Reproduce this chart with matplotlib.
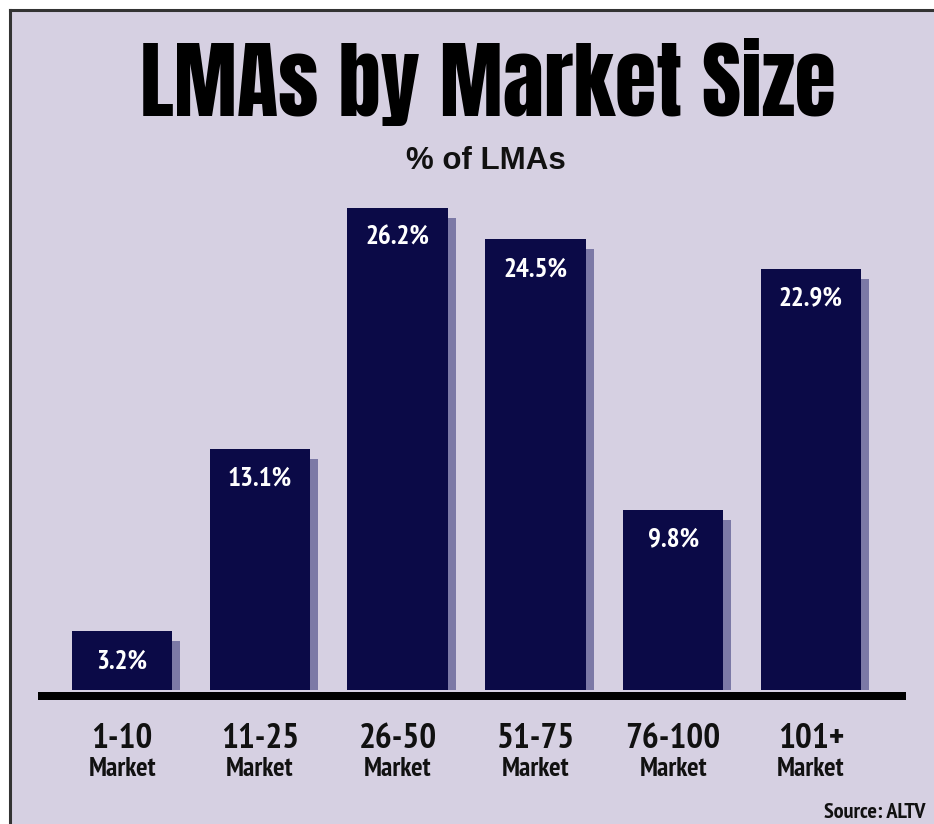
import matplotlib
matplotlib.use("Agg")
import matplotlib.pyplot as plt
from matplotlib.patches import Rectangle
from matplotlib.lines import Line2D

# ---- data ----
categories = ["1-10", "11-25", "26-50", "51-75", "76-100", "101+"]
sublabels = ["Market"] * 6
values = [3.2, 13.1, 26.2, 24.5, 9.8, 22.9]
value_labels = ["3.2%", "13.1%", "26.2%", "24.5%", "9.8%", "22.9%"]
title = "LMAs by Market Size"
subtitle = "% of LMAs"
source = "Source: ALTV"

W, H = 934, 824
DPI = 100
BG = "#d6d0e2"
BAR = "#0b0a47"
SHADOW = "#7c79a6"
TFONT = ["Anton", "Oswald", "DejaVu Sans"]
FONT = ["PT Sans Narrow", "DejaVu Sans"]
SFONT = ["Liberation Sans", "DejaVu Sans"]

def fx(px):
    return px / W

def fy(py):
    return 1 - py / H

fig = plt.figure(figsize=(W / DPI, H / DPI), dpi=DPI, facecolor="white")

fig.add_artist(Rectangle((fx(10), 0), 1 - fx(10), fy(10), transform=fig.transFigure,
                         facecolor=BG, edgecolor="none", zorder=0))
fig.add_artist(Line2D([fx(10), fx(10)], [0, fy(10)], transform=fig.transFigure,
                      color="#333333", lw=2.2, zorder=1))
fig.add_artist(Line2D([fx(10), 1], [fy(10), fy(10)], transform=fig.transFigure,
                      color="#333333", lw=2.2, zorder=1))

left, right, top, bottom = 38, 906, 190, 700
ax = fig.add_axes([fx(left), fy(bottom), fx(right - left), (bottom - top) / H])
ax.set_facecolor("none")
ppu_y = 18.4
y0_px = 690
ax.set_ylim(-(bottom - y0_px) / ppu_y, (y0_px - top) / ppu_y)
ax.set_xlim(-0.61, 5.69)
for s in ax.spines.values():
    s.set_visible(False)
ax.set_xticks([])
ax.set_yticks([])

x = list(range(len(categories)))
bw = 0.73
sh_dx = 8 / 137.8
sh_dy = 10 / ppu_y
ax.bar([i + sh_dx for i in x], [v - sh_dy for v in values], width=bw,
       color=SHADOW, zorder=1, linewidth=0)
ax.bar(x, values, width=bw, color=BAR, zorder=2, linewidth=0)

ax.axhline(-6 / ppu_y, color="black", lw=8 * 72 / DPI, zorder=3, solid_capstyle="butt")

for i, (v, lab) in enumerate(zip(values, value_labels)):
    ax.annotate(lab, (i, v), xytext=(0, -18 * 72 / DPI), textcoords="offset points",
                ha="center", va="top", color="white", fontsize=19.5,
                fontweight="bold", family=FONT, zorder=4)

for i, (c, s) in enumerate(zip(categories, sublabels)):
    ax.annotate(c, (i, 0), xycoords=("data", "axes fraction"),
                xytext=(0, -(723 - bottom) * 72 / DPI), textcoords="offset points",
                ha="center", va="top", fontsize=25.5, fontweight="bold",
                family=FONT, color="#111111", annotation_clip=False)
    ax.annotate(s, (i, 0), xycoords=("data", "axes fraction"),
                xytext=(0, -(757 - bottom) * 72 / DPI), textcoords="offset points",
                ha="center", va="top", fontsize=19.5, fontweight="bold",
                family=FONT, color="#111111", annotation_clip=False)

fig.text(fx(488), fy(116), title, ha="center", va="baseline", fontsize=61,
         family=TFONT, color="black")
fig.text(fx(486), fy(169), subtitle, ha="center", va="baseline", fontsize=22.5,
         fontweight="bold", family=SFONT, color="#111111")
fig.text(fx(925), fy(818), source, ha="right", va="baseline", fontsize=16,
         fontweight="bold", family=FONT, color="#111111")

fig.savefig("out.png", dpi=DPI, facecolor="white")
